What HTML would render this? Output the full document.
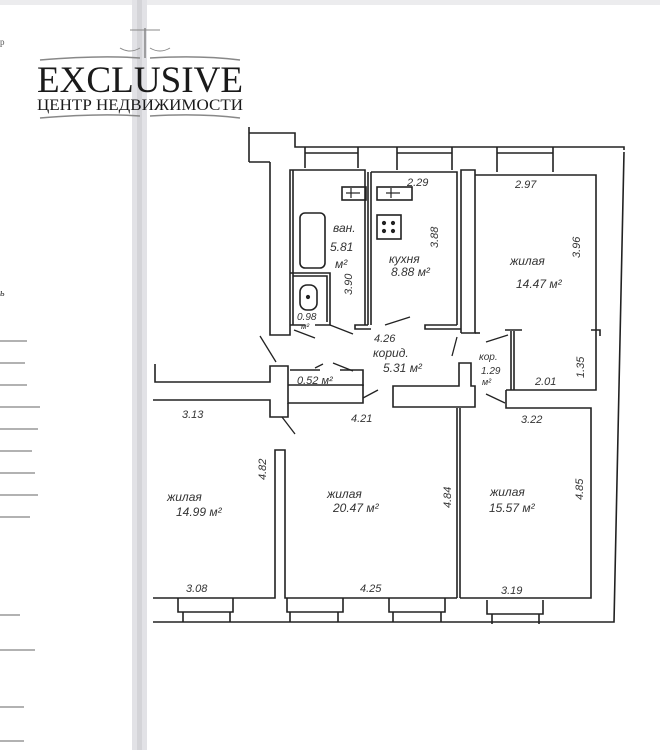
<!DOCTYPE html>
<html><head><meta charset="utf-8"><style>
html,body{margin:0;padding:0;background:#fff;}
body{width:660px;height:750px;overflow:hidden;position:relative;}
svg{position:absolute;left:0;top:0;}
.t{font-family:"Liberation Sans","DejaVu Sans",sans-serif;font-style:italic;fill:#333;}
</style></head><body>
<svg width="660" height="750" viewBox="0 0 660 750" xmlns="http://www.w3.org/2000/svg">
<rect x="0" y="0" width="660" height="750" fill="#fff"/>
<!-- top gray edge -->
<rect x="0" y="0" width="660" height="5" fill="#ececee"/>
<!-- page gutter -->
<rect x="132" y="0" width="15" height="750" fill="#e2e2e6"/>
<rect x="137" y="0" width="5" height="750" fill="#d4d4d8"/>
<!-- left page lines -->
<g stroke="#666" stroke-width="1">
<line x1="0" y1="341" x2="27" y2="341"/><line x1="0" y1="363" x2="25" y2="363"/>
<line x1="0" y1="385" x2="27" y2="385"/><line x1="0" y1="407" x2="40" y2="407"/>
<line x1="0" y1="429" x2="38" y2="429"/><line x1="0" y1="451" x2="32" y2="451"/>
<line x1="0" y1="473" x2="35" y2="473"/><line x1="0" y1="495" x2="38" y2="495"/>
<line x1="0" y1="517" x2="30" y2="517"/><line x1="0" y1="615" x2="20" y2="615"/>
<line x1="0" y1="650" x2="35" y2="650"/><line x1="0" y1="707" x2="24" y2="707"/>
<line x1="0" y1="741" x2="24" y2="741"/>
</g>
<text x="0" y="45" font-family="Liberation Serif,serif" font-size="9" fill="#555">р</text>
<text x="0" y="296" font-family="Liberation Serif,serif" font-size="10" fill="#333" font-style="italic">ь</text>

<!-- logo -->
<g fill="#999" stroke="#888">
<line x1="145" y1="28" x2="145" y2="58" stroke-width="1.5"/>
<line x1="130" y1="30" x2="160" y2="30" stroke-width="1"/>
<path d="M120 48 q10 6 20 0 M150 48 q10 6 20 0" fill="none" stroke-width="1"/>
<path d="M40 60 Q100 55 140 58 M150 58 Q200 55 240 60" fill="none" stroke-width="1.5"/>
<path d="M40 118 Q100 113 140 116 M150 116 Q200 113 240 118" fill="none" stroke-width="1.5"/>
</g>
<text x="140" y="92" text-anchor="middle" font-family="Liberation Serif,serif" font-size="37" fill="#1a1a1a" textLength="206" lengthAdjust="spacingAndGlyphs">EXCLUSIVE</text>
<text x="140" y="110" text-anchor="middle" font-family="Liberation Serif,serif" font-size="15.5" fill="#1a1a1a" textLength="206" lengthAdjust="spacingAndGlyphs">ЦЕНТР НЕДВИЖИМОСТИ</text>

<!-- plan -->
<g stroke="#222" stroke-width="1.6" fill="none" stroke-linejoin="miter">
<!-- top outer -->
<path d="M249 127 V162 M249 133 H295 V147 H624 V150"/>
<path d="M249 162 H270"/>
<!-- windows top -->
<path d="M305 147 V153 M358 147 V153 M305 153 H358 M305 153 V168 M358 153 V168"/>
<path d="M397 147 V153 M452 147 V153 M397 153 H452 M397 153 V170 M452 153 V170"/>
<path d="M497 147 V153 M553 147 V153 M497 153 H553 M497 153 V172 M553 153 V172"/>
<!-- outer right -->
<path d="M624 152 L614 622 H153"/>
<!-- left thick wall -->
<path d="M270 162 V335 H290 V170 H365 V325 M293 170 V325"/>
<path d="M368 172 V325 M371 172 V325 M371 172 H457 V325 M461 172 V333 M457 325 H425 V329 H461 M368 325 H355 V329 H371"/>
<path d="M461 172 V170 H475 V333 H461"/>
<!-- toilet -->
<path d="M290 325 H305 M290 273 H330 V325 H315 M293 276 H327 V322"/>
<!-- bath fixtures -->
<rect x="300" y="213" width="25" height="55" rx="5"/>
<rect x="300" y="285" width="17" height="25" rx="7"/>
<rect x="342" y="187" width="24" height="13"/>
<rect x="377" y="187" width="35" height="13"/>
<rect x="377" y="215" width="24" height="24"/>
<!-- right room -->
<path d="M475 175 H596 V390 H506 M591 330 H600 V336 M596 330 V336"/>
<path d="M475 333 H480"/>
<path d="M511 331 V390 M514 331 V390 M505 330 H522"/>
<!-- corridor area -->
<path d="M155 364 V382 H270 V366 H288 V403 H363 V385 H288"/>
<path d="M290 370 H320 M340 370 H363 V386"/>
<path d="M153 400 H270 V417 H288 V403"/>
<path d="M393 386 H459 V363 H471 V386 H475 V407 H393 Z"/>
<path d="M506 390 V408 H591 V598 H460"/>
<path d="M457 408 V598 M460 408 V598"/>
<!-- lower left room -->
<path d="M153 598 H275 V450 H285 V598 H457"/>
<!-- bottom windows -->
<path d="M178 598 V612 H233 V598 M183 612 V622 M230 612 V622"/>
<path d="M287 598 V612 H343 V598 M290 612 V622 M338 612 V622"/>
<path d="M389 598 V612 H445 V598 M393 612 V622 M441 612 V622"/>
<path d="M487 600 V614 H543 V600 M492 614 V624 M539 614 V624"/>
</g>
<g stroke="#222" stroke-width="1.3">
<!-- door swings -->
<line x1="260" y1="336" x2="276" y2="362"/>
<line x1="294" y1="330" x2="315" y2="338"/>
<line x1="330" y1="325" x2="353" y2="334"/>
<line x1="385" y1="325" x2="410" y2="317"/>
<line x1="457" y1="337" x2="452" y2="356"/>
<line x1="486" y1="342" x2="508" y2="335"/>
<line x1="363" y1="398" x2="378" y2="390"/>
<line x1="282" y1="417" x2="295" y2="434"/>
<line x1="486" y1="394" x2="505" y2="403"/>
<line x1="315" y1="368" x2="323" y2="364"/>
<line x1="333" y1="363" x2="353" y2="371"/>
</g>
<g stroke="#222" stroke-width="1.2" fill="#222">
<line x1="351" y1="188" x2="351" y2="198"/><line x1="346" y1="193" x2="360" y2="193"/>
<line x1="391" y1="188" x2="391" y2="198"/><line x1="386" y1="193" x2="400" y2="193"/>
<circle cx="384" cy="223" r="1.5"/><circle cx="393" cy="223" r="1.5"/>
<circle cx="384" cy="231" r="1.5"/><circle cx="393" cy="231" r="1.5"/>
<circle cx="308" cy="297" r="1.5"/>
</g>

<!-- labels -->
<g class="t" font-size="12">
<text x="333" y="232">ван.</text>
<text x="330" y="251">5.81</text>
<text x="335" y="268">м²</text>
<text x="389" y="263">кухня</text>
<text x="391" y="276">8.88 м²</text>
<text x="407" y="186" font-size="11">2.29</text>
<text x="515" y="188" font-size="11">2.97</text>
<text x="510" y="265">жилая</text>
<text x="516" y="288">14.47 м²</text>
<text x="374" y="342" font-size="11">4.26</text>
<text x="373" y="357">корид.</text>
<text x="383" y="372">5.31 м²</text>
<text x="479" y="360" font-size="10">кор.</text>
<text x="481" y="374" font-size="10">1.29</text>
<text x="482" y="385" font-size="9">м²</text>
<text x="535" y="385" font-size="11">2.01</text>
<text x="297" y="320" font-size="10">0.98</text>
<text x="301" y="329" font-size="8">м²</text>
<text x="297" y="384" font-size="11">0.52 м²</text>
<text x="182" y="418" font-size="11">3.13</text>
<text x="351" y="422" font-size="11">4.21</text>
<text x="521" y="423" font-size="11">3.22</text>
<text x="167" y="501">жилая</text>
<text x="176" y="516">14.99 м²</text>
<text x="327" y="498">жилая</text>
<text x="333" y="512">20.47 м²</text>
<text x="490" y="496">жилая</text>
<text x="489" y="512">15.57 м²</text>
<text x="186" y="592" font-size="11">3.08</text>
<text x="360" y="592" font-size="11">4.25</text>
<text x="501" y="594" font-size="11">3.19</text>
</g>
<g class="t" font-size="11">
<text transform="translate(352,295) rotate(-90)">3.90</text>
<text transform="translate(438,248) rotate(-90)">3.88</text>
<text transform="translate(580,258) rotate(-90)">3.96</text>
<text transform="translate(584,378) rotate(-90)">1.35</text>
<text transform="translate(266,480) rotate(-90)">4.82</text>
<text transform="translate(451,508) rotate(-90)">4.84</text>
<text transform="translate(583,500) rotate(-90)">4.85</text>
</g>
</svg>
</body></html>
